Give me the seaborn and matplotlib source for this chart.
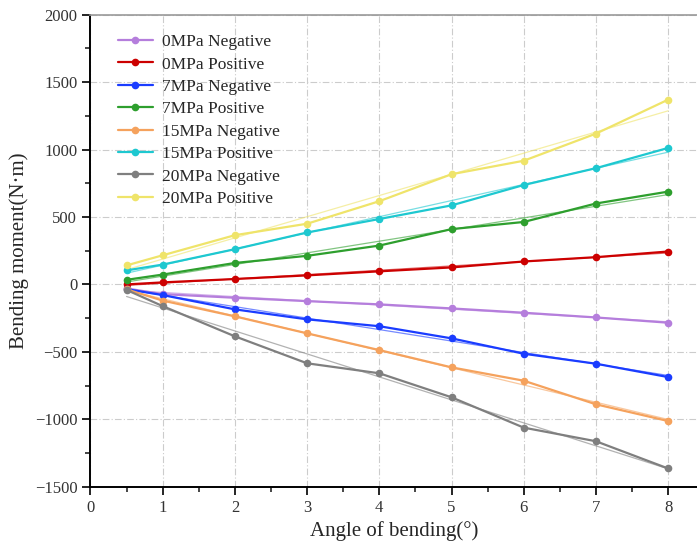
import numpy as np
import pandas as pd
import matplotlib
matplotlib.use("Agg")
import matplotlib.pyplot as plt
import seaborn as sns
from matplotlib.ticker import MultipleLocator

angles = [0.5, 1, 2, 3, 4, 5, 6, 7, 8]
neg_0 = [-30, -72, -99, -124, -148, -178, -210, -245, -284]
pos_0 = [0, 15, 40, 67, 97, 126, 170, 202, 244]
neg_7 = [-35, -79, -185, -259, -310, -400, -514, -588, -687]
pos_7 = [34, 73, 159, 212, 288, 410, 463, 600, 688]
neg_15 = [-37, -120, -237, -363, -487, -615, -714, -889, -1013]
pos_15 = [104, 147, 261, 385, 485, 586, 737, 862, 1012]
neg_20 = [-41, -161, -385, -585, -659, -837, -1062, -1163, -1365]
pos_20 = [141, 216, 365, 450, 617, 817, 917, 1118, 1370]

labels = ["0MPa Negative", "0MPa Positive", "7MPa Negative", "7MPa Positive",
          "15MPa Negative", "15MPa Positive", "20MPa Negative", "20MPa Positive"]
series = [neg_0, pos_0, neg_7, pos_7, neg_15, pos_15, neg_20, pos_20]
colors = ["#b57edc", "#cc0000", "#1a3cff", "#2e9f2e",
          "#f5a25d", "#1ec8d0", "#7f7f7f", "#efe46a"]

rows = []
for lab, vals in zip(labels, series):
    for a, v in zip(angles, vals):
        rows.append({"angle": a, "moment": v, "series": lab})
df = pd.DataFrame(rows)

sns.set_theme(style="white")
plt.rcParams['font.family'] = ['Liberation Serif', 'DejaVu Serif']

fig = plt.figure(figsize=(6.97, 5.49), dpi=100)
ax = fig.add_axes([0.1298, 0.1135, 0.8702, 0.8597])

# linear fit lines
for lab, col in zip(labels, colors):
    sub = df[df.series == lab]
    sns.regplot(data=sub, x="angle", y="moment", ax=ax, scatter=False, ci=None,
                truncate=True, color=col, line_kws=dict(lw=0.9, alpha=0.6))

pal = dict(zip(labels, colors))
sns.lineplot(data=df, x="angle", y="moment", hue="series", hue_order=labels,
             palette=pal, marker="o", markersize=5.5, markeredgewidth=0,
             linewidth=1.6, ax=ax, legend=True)

ax.set_xlim(0, 8.4)
ax.set_ylim(-1500, 2000)
ax.xaxis.set_major_locator(MultipleLocator(1))
ax.xaxis.set_minor_locator(MultipleLocator(0.5))
ax.yaxis.set_major_locator(MultipleLocator(500))
ax.yaxis.set_minor_locator(MultipleLocator(250))
ax.tick_params(axis="both", which="major", direction="out", length=6, width=1.2,
               labelsize=12, colors="black", bottom=True, left=True)
ax.tick_params(axis="both", which="minor", direction="out", length=3.5, width=1.2,
               bottom=True, left=True)
ax.tick_params(axis="both", labelcolor="#333333")

ax.grid(True, which="major", color="#cccccc", linestyle=(0, (6, 2, 1, 2)), lw=0.8)
for s in ["left", "bottom"]:
    ax.spines[s].set_color("black")
    ax.spines[s].set_linewidth(1.4)
ax.spines["right"].set_visible(False)
ax.spines["top"].set_color("#999999")
ax.spines["top"].set_linewidth(1.2)

ax.set_xlabel("Angle of bending(°)", fontsize=15)
ax.set_ylabel("Bending moment(N·m)", fontsize=15)

leg = ax.legend(loc="upper left", bbox_to_anchor=(0.025, 0.985), frameon=False,
                fontsize=12.5, labelspacing=0.36, handlelength=2.0,
                handletextpad=0.55, borderaxespad=0.3)

fig.savefig("out.png", dpi=100)
